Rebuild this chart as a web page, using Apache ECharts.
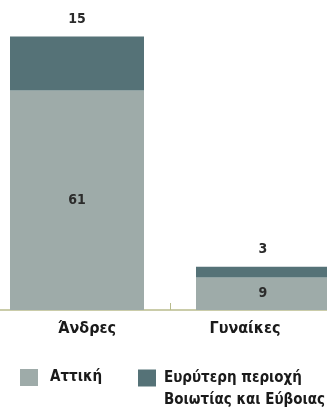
<!DOCTYPE html>
<html>
<head>
<meta charset="utf-8">
<script src="https://cdn.jsdelivr.net/npm/echarts@6/dist/echarts.min.js"></script>
<style>
html,body{margin:0;padding:0;background:#fff;}
#c{width:327px;height:408px;}
</style>
</head>
<body>
<div id="c"></div>
<script>
const categories = ['Άνδρες', 'Γυναίκες'];
const seriesNames = ['Αττική', 'Ευρύτερη περιοχή\nΒοιωτίας και Εύβοιας'];
const attiki = [61, 9];
const evryteri = [15, 3];

const FONT = '"Liberation Sans Narrow", "DejaVu Sans Condensed", "Noto Sans", sans-serif';
const chart = echarts.init(document.getElementById('c'));
chart.setOption({
  animation: false,
  grid: { left: -16, width: 372, top: 22, height: 288, outerBoundsMode: 'none', containLabel: false },
  xAxis: {
    type: 'category',
    data: categories,
    axisLine: { lineStyle: { color: '#b8bb8c', width: 1.5 } },
    axisTick: { show: true, inside: true, alignWithLabel: false, length: 7, lineStyle: { color: '#b8bb8c', width: 1 } },
    axisLabel: {
      margin: 11,
      fontFamily: FONT, fontWeight: 'bold', fontSize: 16, color: '#1a1a1a',
      formatter: function (v, i) { return i === 0 ? '{a|' + v + '}' : '{b|' + v + '}'; },
      rich: {
        a: { fontFamily: FONT, fontWeight: 'bold', fontSize: 16, color: '#1a1a1a', padding: [0, 0, 0, 20] },
        b: { fontFamily: FONT, fontWeight: 'bold', fontSize: 16, color: '#1a1a1a', padding: [0, 36, 0, 0] }
      }
    }
  },
  yAxis: { type: 'value', min: 0, max: 80, show: false, splitLine: { show: false } },
  legend: [
    {
      data: [seriesNames[0]], left: 20, top: 369, padding: 0,
      itemWidth: 18, itemHeight: 17, icon: 'rect',
      textStyle: { fontFamily: FONT, fontWeight: 'bold', fontSize: 15, color: '#1a1a1a', padding: [0, 0, 0, 7] }
    },
    {
      data: [seriesNames[1]],
      left: 138, top: 345, padding: 0,
      itemWidth: 18, itemHeight: 17, icon: 'rect',
      formatter: function (name) { return ' \n' + name; },
      textStyle: { fontFamily: FONT, fontWeight: 'bold', fontSize: 15, color: '#1a1a1a', lineHeight: 22, padding: [0, 0, 0, 3] }
    }
  ],
  series: [
    {
      name: seriesNames[0], type: 'bar', stack: 's', data: attiki, barWidth: 134,
      itemStyle: { color: '#9eaba9' },
      label: { show: true, position: 'inside', fontFamily: FONT, fontWeight: 'bold', fontSize: 14, color: '#2b2b2b' }
    },
    {
      name: seriesNames[1], type: 'bar', stack: 's', data: evryteri, barWidth: 134,
      itemStyle: { color: '#557277' },
      label: { show: true, position: 'top', distance: 10, fontFamily: FONT, fontWeight: 'bold', fontSize: 14, color: '#2b2b2b' }
    }
  ]
});
</script>
</body>
</html>
